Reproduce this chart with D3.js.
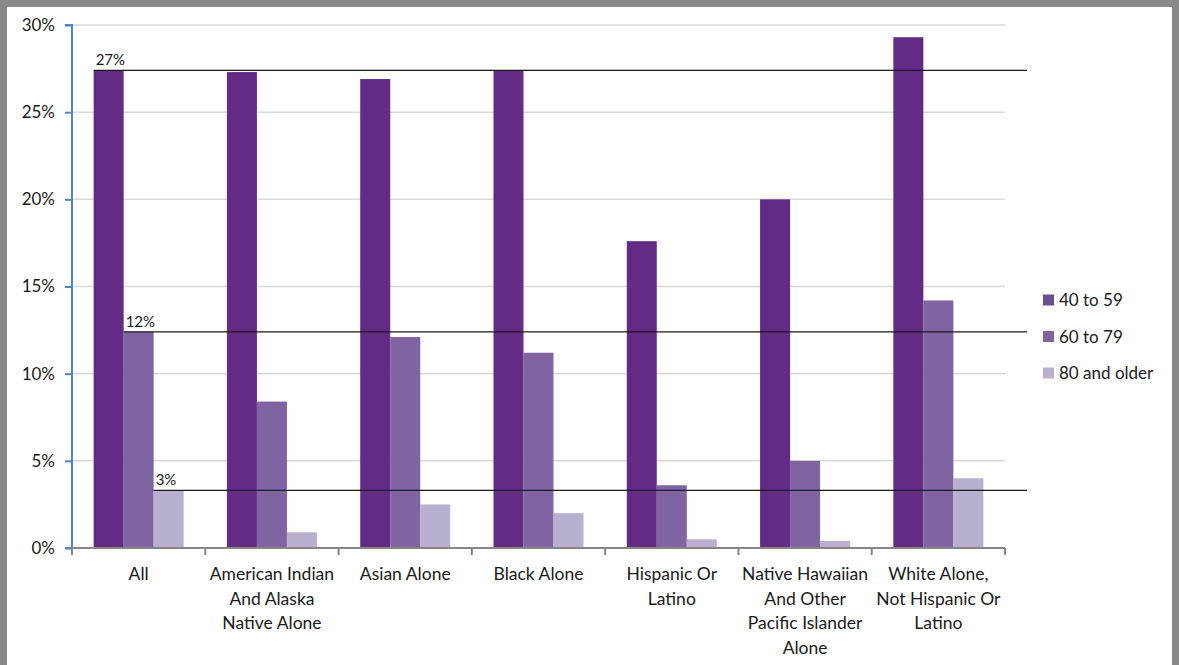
<!DOCTYPE html>
<html><head><meta charset="utf-8">
<script src="https://cdn.jsdelivr.net/npm/d3@7"></script>
<style>
html,body{margin:0;padding:0;background:#888888;}
svg{display:block;}
text{font-family:Lato,"Open Sans",sans-serif;fill:#1a1a1a;}
</style></head>
<body>
<svg id="c" width="1179" height="665"></svg>
<script>
const categories = [
  ["All"],
  ["American Indian","And Alaska","Native Alone"],
  ["Asian Alone"],
  ["Black Alone"],
  ["Hispanic Or","Latino"],
  ["Native Hawaiian","And Other","Pacific Islander","Alone"],
  ["White Alone,","Not Hispanic Or","Latino"]
];
const seriesNames = ["40 to 59","60 to 79","80 and older"];
const s40to59 = [27.4, 27.3, 26.9, 27.4, 17.6, 20.0, 29.3];
const s60to79 = [12.4, 8.4, 12.1, 11.2, 3.6, 5.0, 14.2];
const s80plus = [3.3, 0.9, 2.5, 2.0, 0.5, 0.4, 4.0];
const refLabels = ["27%","12%","3%"];
const yTicks = [0,5,10,15,20,25,30];

(function(){
const series = [s40to59, s60to79, s80plus];
const colors = ["#642b86","#8064a2","#b9afcf"];
const legendColors = ["#6a5090","#8064a2","#b9afcf"];

const svg = d3.select("#c");
svg.append("rect").attr("x",7).attr("y",7).attr("width",1165).attr("height",665).attr("fill","#fff");

const pL=72, pR=1005, pT=25, pB=548;
const y = d3.scaleLinear().domain([0,30]).range([pB,pT]);
const x0 = d3.scaleBand().domain(d3.range(categories.length)).range([pL,pR]).paddingInner(0).paddingOuter(0);
const x1 = d3.scaleBand().domain(d3.range(3)).range([0, 90]);
const groupOffset = (x0.bandwidth()-90)/2;

svg.append("g").selectAll("line").data(yTicks.filter(d=>d>0)).join("line")
  .attr("x1",pL).attr("x2",pR).attr("y1",d=>y(d)).attr("y2",d=>y(d))
  .attr("stroke","#d9d9d9").attr("stroke-width",1.5);

const g = svg.append("g");
series.forEach((s,si)=>{
  g.selectAll(null).data(s).join("rect")
    .attr("x",(d,i)=>x0(i)+groupOffset+x1(si))
    .attr("y",d=>y(d))
    .attr("width",x1.bandwidth())
    .attr("height",d=>pB-y(d))
    .attr("fill",colors[si]);
});

const yAxis = d3.axisLeft(y).tickValues(yTicks).tickFormat(d=>d+"%").tickSize(7).tickPadding(10);
const ya = svg.append("g").attr("transform",`translate(${pL},0)`).call(yAxis);
ya.select(".domain").attr("stroke","#4a86c8").attr("stroke-width",2).attr("d",`M-7,${pT}H0V${pB}H-7`);
ya.selectAll(".tick line").attr("stroke","#4a86c8").attr("stroke-width",2);
ya.selectAll("text").style("font-size","17px").attr("fill","#111").style("font-family","Lato,'Open Sans',sans-serif");

const xa = svg.append("g").attr("transform",`translate(0,${pB})`);
xa.append("line").attr("x1",pL).attr("x2",pR).attr("y1",0).attr("y2",0).attr("stroke","#868686").attr("stroke-width",2);
xa.selectAll("line.tk").data(d3.range(categories.length+1)).join("line").attr("class","tk")
  .attr("x1",i=>pL+i*x0.bandwidth()).attr("x2",i=>pL+i*x0.bandwidth())
  .attr("y1",0).attr("y2",7).attr("stroke","#868686").attr("stroke-width",2);
categories.forEach((lines,i)=>{
  const t = xa.append("text").attr("text-anchor","middle").style("font-size","17.5px").attr("fill","#111")
    .attr("transform",`translate(${x0(i)+x0.bandwidth()/2},0)`);
  lines.forEach((ln,j)=>t.append("tspan").attr("x",0).attr("y",32+j*24.5).text(ln));
});

series.forEach((s,si)=>{
  const xs = x0(0)+groupOffset+x1(si);
  svg.append("line").attr("x1",xs).attr("x2",1027).attr("y1",y(s[0])).attr("y2",y(s[0]))
    .attr("stroke","#1a1a1a").attr("stroke-width",1.3);
  svg.append("text").attr("x",xs+2).attr("y",y(s[0])-5).style("font-size","15px").attr("fill","#262626").text(refLabels[si]);
});

const lg = svg.append("g").attr("transform","translate(1043,0)");
seriesNames.forEach((n,i)=>{
  const yy = 300 + i*36.5;
  lg.append("rect").attr("x",0).attr("y",yy-5.5).attr("width",11).attr("height",11).attr("fill",legendColors[i]);
  lg.append("text").attr("x",16).attr("y",yy+6).style("font-size","17px").attr("fill","#111").text(n);
});
})();
</script>
</body></html>
